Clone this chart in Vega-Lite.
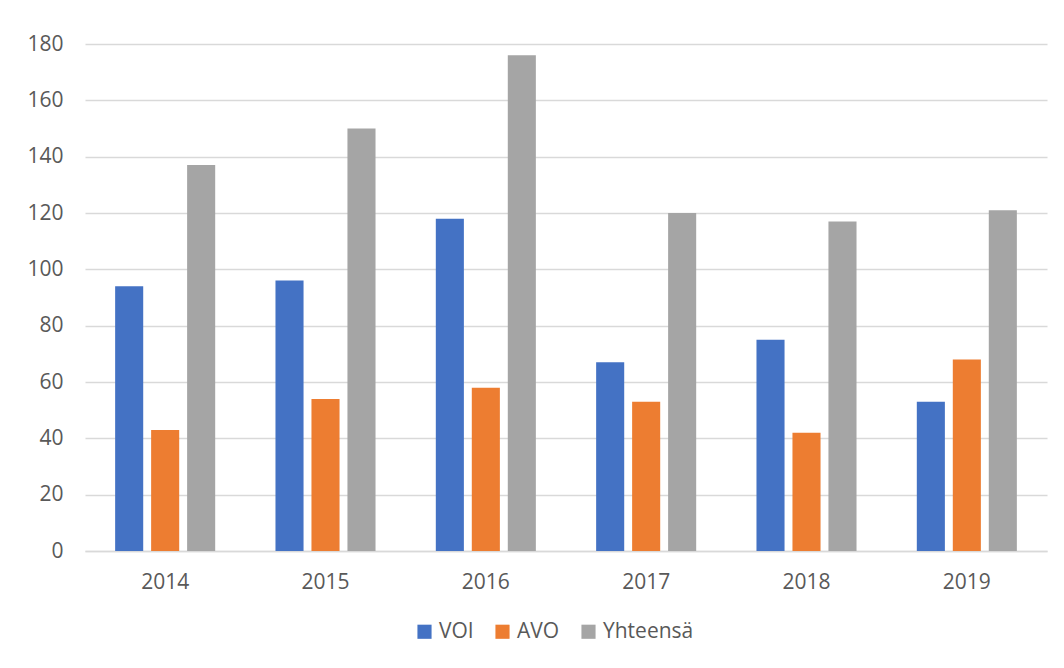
{
  "$schema": "https://vega.github.io/schema/vega-lite/v6.json",
  "autosize": {"type": "none"},
  "width": 962,
  "height": 507,
  "padding": {"left": 85, "top": 44, "right": 17, "bottom": 117},
  "background": "white",
  "data": {
    "values": [
      {"year": "2014", "series": "VOI", "value": 94},
      {"year": "2014", "series": "AVO", "value": 43},
      {"year": "2014", "series": "Yhteensä", "value": 137},
      {"year": "2015", "series": "VOI", "value": 96},
      {"year": "2015", "series": "AVO", "value": 54},
      {"year": "2015", "series": "Yhteensä", "value": 150},
      {"year": "2016", "series": "VOI", "value": 118},
      {"year": "2016", "series": "AVO", "value": 58},
      {"year": "2016", "series": "Yhteensä", "value": 176},
      {"year": "2017", "series": "VOI", "value": 67},
      {"year": "2017", "series": "AVO", "value": 53},
      {"year": "2017", "series": "Yhteensä", "value": 120},
      {"year": "2018", "series": "VOI", "value": 75},
      {"year": "2018", "series": "AVO", "value": 42},
      {"year": "2018", "series": "Yhteensä", "value": 117},
      {"year": "2019", "series": "VOI", "value": 53},
      {"year": "2019", "series": "AVO", "value": 68},
      {"year": "2019", "series": "Yhteensä", "value": 121}
    ]
  },
  "mark": {"type": "bar"},
  "encoding": {
    "x": {
      "field": "year", "type": "nominal", "title": null,
      "scale": {"paddingInner": 0.376, "paddingOuter": 0.188},
      "axis": {
        "labelAngle": 0, "ticks": false, "labelPadding": 20,
        "domainColor": "#d9d9d9", "domainWidth": 1.5,
        "labelFont": "Open Sans", "labelFontSize": 21, "labelColor": "#595959"
      }
    },
    "xOffset": {
      "field": "series", "type": "nominal",
      "sort": ["VOI", "AVO", "Yhteensä"],
      "scale": {"paddingInner": 0.22, "paddingOuter": 0}
    },
    "y": {
      "field": "value", "type": "quantitative", "title": null,
      "scale": {"domain": [0, 180]},
      "axis": {
        "values": [0, 20, 40, 60, 80, 100, 120, 140, 160, 180],
        "domain": false, "ticks": false, "labelPadding": 22,
        "gridColor": "#d9d9d9", "gridWidth": 1.5,
        "labelFont": "Open Sans", "labelFontSize": 21, "labelColor": "#595959"
      }
    },
    "color": {
      "field": "series", "type": "nominal",
      "sort": ["VOI", "AVO", "Yhteensä"],
      "scale": {"domain": ["VOI", "AVO", "Yhteensä"], "range": ["#4472C4", "#ED7D31", "#A5A5A5"]},
      "legend": {
        "title": null, "orient": "none", "legendX": 329, "legendY": 577,
        "direction": "horizontal",
        "symbolType": "square", "symbolSize": 200, "symbolStrokeWidth": 0,
        "labelFont": "Open Sans", "labelFontSize": 21, "labelColor": "#595959",
        "labelOffset": 4, "columnPadding": 18
      }
    }
  },
  "config": {"view": {"stroke": null}}
}
